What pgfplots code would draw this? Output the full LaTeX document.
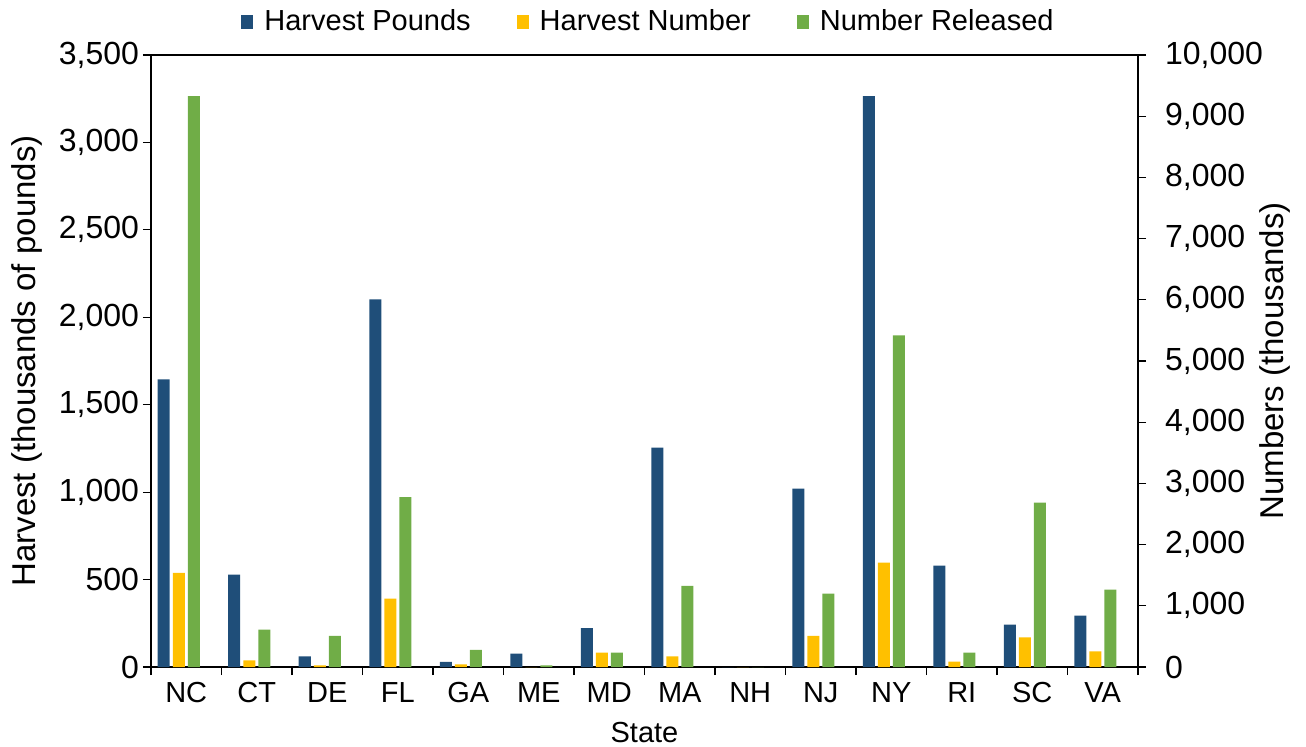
\documentclass[border=0pt]{standalone}
\usepackage{pgfplots}
\pgfplotsset{compat=1.18}
\usepackage{fontspec}
\setmainfont{Liberation Sans}
\definecolor{cBlue}{HTML}{1F4E79}
\definecolor{cYellow}{HTML}{FFC000}
\definecolor{cGreen}{HTML}{70AD47}
\begin{document}
\begin{tikzpicture}
\path[use as bounding box] (-75.5pt,-39.5pt) rectangle (577.5pt,333.5pt);
\pgfplotsset{
  common/.style={
    scale only axis, width=493.5pt, height=306pt,
    xmin=-0.5, xmax=13.5, ymin=0,
    ybar, bar width=6pt,
    font=\fontsize{14.5}{17}\selectfont,
    yticklabel style={font=\fontsize{16}{19}\selectfont},
    ylabel style={font=\fontsize{16.5}{19}\selectfont},
    /pgf/number format/assume math mode=true,
    /pgf/number format/1000 sep={,},
    scaled y ticks=false,
    tick align=outside,
    major tick length=4pt,
    axis line style={line width=0.8pt, black},
    every tick/.style={black, line width=0.6pt},
  }
}
\begin{axis}[common, at={(0pt,0pt)}, anchor=south west,
  ymax=3500, ytick={0,500,...,3500}, ytick pos=left,
  yticklabel style={xshift=1.5pt},
  xtick={-0.5,0.5,...,13.5},
  xticklabels={NC,CT,DE,FL,GA,ME,MD,MA,NH,NJ,NY,RI,SC,VA},
  x tick label as interval,
  xtick pos=bottom,
  xlabel={State},
  xlabel style={at={(axis description cs:0.5,0)}, anchor=center, yshift=-33pt},
  ylabel={Harvest (thousands of pounds)},
  ylabel style={at={(axis description cs:-0.1256,0.5)}, anchor=center},
  legend style={at={(axis description cs:0.5,1.054)}, anchor=center, xshift=2.5pt, draw=none,
    fill=none, legend columns=3, inner sep=0pt,
    /tikz/every odd column/.append style={column sep=3.5pt},
    /tikz/every even column/.append style={column sep=21pt},
    font=\fontsize{14.5}{17}\selectfont},
  legend image code/.code={\fill[#1] (0pt,-3.3pt) rectangle (6pt,3.3pt);},
]
\addplot[fill=cBlue, draw=none, bar shift=-11.25pt] coordinates {
 (0,1645) (1,529) (2,61) (3,2102) (4,30) (5,76) (6,223) (7,1255) (8,0) (9,1020) (10,3265) (11,580) (12,242) (13,294)};
\addlegendentry{Harvest Pounds}
\addlegendimage{fill=cYellow, draw=none}
\addlegendentry{Harvest Number}
\addlegendimage{fill=cGreen, draw=none}
\addlegendentry{Number Released}
\end{axis}
\begin{axis}[common, at={(0pt,0pt)}, anchor=south west,
  ymax=10000, ytick={0,1000,...,10000},
  axis y line*=right, axis x line=none,
  yticklabel style={xshift=6pt},
  ylabel={Numbers (thousands)},
  ylabel style={at={(axis description cs:1.1388,0.5)}, anchor=center, rotate=0},
]
\addplot[fill=cYellow, draw=none, bar shift=-3.75pt] coordinates {
 (0,1537) (1,109) (2,27) (3,1117) (4,44) (5,0) (6,234) (7,174) (8,0) (9,507) (10,1706) (11,87) (12,485) (13,256)};
\addplot[fill=cGreen, draw=none, bar shift=3.75pt] coordinates {
 (0,9330) (1,610) (2,507) (3,2774) (4,278) (5,27) (6,234) (7,1324) (8,0) (9,1199) (10,5418) (11,234) (12,2686) (13,1264)};
\end{axis}
\end{tikzpicture}
\end{document}
